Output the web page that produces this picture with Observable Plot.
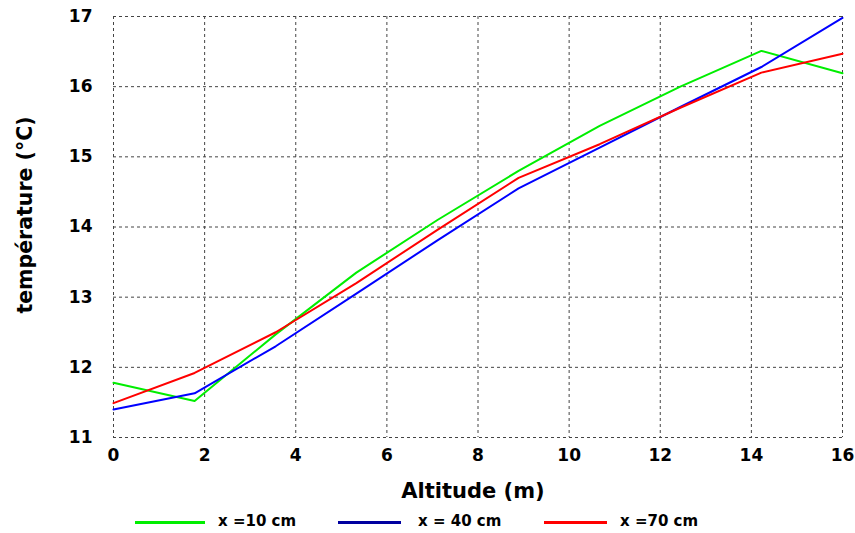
<!DOCTYPE html>
<html>
<head>
<meta charset="utf-8">
<script src="https://cdn.jsdelivr.net/npm/d3@7"></script>
<script src="https://cdn.jsdelivr.net/npm/@observablehq/plot@0.6"></script>
<style>
  html, body { margin: 0; padding: 0; background: #fff; }
  #wrap { position: relative; width: 855px; height: 533px; font-family: "DejaVu Sans", sans-serif; font-weight: bold; }
  #legend { position: absolute; left: 0; top: 510px; width: 855px; height: 24px; }
  .sw { position: absolute; top: 11px; height: 3px; }
  .lt { position: absolute; top: 2px; font-size: 15px; font-weight: bold; color: #000; white-space: nowrap; }
</style>
</head>
<body>
<div id="wrap">
  <div id="chart"></div>
  <div id="legend"></div>
</div>
<script>
const altitude = [0, 1.78, 3.56, 5.33, 7.11, 8.89, 10.67, 12.44, 14.22, 16];
const t10 = [11.78, 11.52, 12.47, 13.35, 14.10, 14.80, 15.44, 16.00, 16.51, 16.19];
const t40 = [11.40, 11.63, 12.30, 13.05, 13.81, 14.55, 15.13, 15.71, 16.28, 16.98];
const t70 = [11.49, 11.92, 12.50, 13.20, 13.96, 14.70, 15.18, 15.70, 16.20, 16.47];
const seriesNames = ["x =10 cm", "x = 40 cm", "x =70 cm"];
const seriesValues = [t10, t40, t70];
const lineColors = ["#00ee00", "#0000ff", "#ff0000"];
const legendColors = ["#00ee00", "#0000a0", "#ff0000"];
const xTicks = [0, 2, 4, 6, 8, 10, 12, 14, 16];
const yTicks = [11, 12, 13, 14, 15, 16, 17];
const xLabel = "Altitude (m)";
const yLabel = "température (°C)";

const rows = seriesNames.flatMap((s, i) => altitude.map((a, j) => ({series: s, alt: a, temp: seriesValues[i][j]})));

const chart = Plot.plot({
  width: 855,
  height: 505,
  marginLeft: 113,
  marginRight: 13,
  marginTop: 16,
  marginBottom: 68,
  style: {fontFamily: "DejaVu Sans, sans-serif", fontWeight: "bold", background: "#fff"},
  x: {domain: [0, 16]},
  y: {domain: [11, 17]},
  color: {domain: seriesNames, range: lineColors},
  marks: [
    Plot.gridX(xTicks, {stroke: "#444", strokeOpacity: 1, strokeDasharray: "3,3", strokeWidth: 1}),
    Plot.gridY(yTicks, {stroke: "#444", strokeOpacity: 1, strokeDasharray: "3,3", strokeWidth: 1}),
    Plot.axisX(xTicks, {tickSize: 0, tickPadding: 11, fontSize: 17, fontWeight: "bold", label: null, tickFormat: d3.format("d")}),
    Plot.axisY(yTicks, {tickSize: 0, tickPadding: 21, fontSize: 17, fontWeight: "bold", label: null, tickFormat: d3.format("d")}),
    Plot.line(rows, {x: "alt", y: "temp", z: "series", stroke: "series", strokeWidth: 2}),
    Plot.text([xLabel], {frameAnchor: "bottom", dy: 60, dx: -5, fontSize: 21, fontWeight: "bold", fill: "#000"}),
    Plot.text([yLabel], {frameAnchor: "left", textAnchor: "middle", dx: -88, dy: -12, rotate: -90, fontSize: 20.5, fontWeight: "bold", fill: "#000"})
  ]
});
document.getElementById("chart").appendChild(chart);

const legendPos = [[135, 218], [338, 418], [544, 620]];
const lg = document.getElementById("legend");
seriesNames.forEach((s, i) => {
  const sw = document.createElement("div");
  sw.className = "sw";
  sw.style.left = legendPos[i][0] + "px";
  sw.style.width = (i === 0 ? 70 : 63) + "px";
  sw.style.background = legendColors[i];
  lg.appendChild(sw);
  const t = document.createElement("div");
  t.className = "lt";
  t.style.left = legendPos[i][1] + "px";
  t.textContent = s;
  lg.appendChild(t);
});
</script>
</body>
</html>
